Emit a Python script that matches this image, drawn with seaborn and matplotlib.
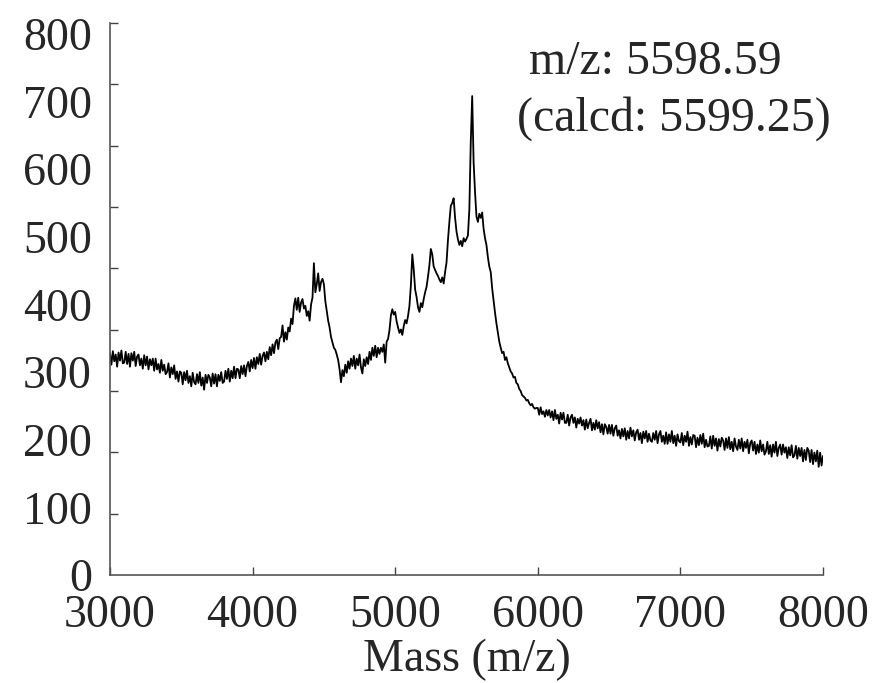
import numpy as np
import pandas as pd
import matplotlib
matplotlib.use("Agg")
import matplotlib.pyplot as plt
import seaborn as sns

# intensities, one value every 10 Da (3000 ... 8000)
baseline_left = [
    328, 311, 331, 316, 326, 308, 329, 317, 332, 313,   # 3000
    314, 330, 312, 327, 308, 328, 317, 330, 309, 323,   # 3100
    326, 310, 320, 305, 325, 310, 323, 304, 319, 310,   # 3200
    320, 302, 320, 304, 312, 299, 318, 302, 311, 297,   # 3300
    300, 313, 292, 307, 297, 310, 290, 301, 286, 301,   # 3400
    299, 282, 300, 288, 302, 284, 294, 279, 299, 285,   # 3500
    282, 297, 284, 300, 280, 292, 274, 296, 284, 296,   # 3600
    292, 279, 298, 283, 297, 279, 296, 287, 300, 284,   # 3700
    286, 302, 290, 305, 286, 302, 291, 308, 291, 305,   # 3800
    304, 291, 309, 297, 310, 294, 309, 315, 301, 318,   # 3900
    306, 321, 305, 322, 312, 327, 311, 324, 329, 316,   # 4000
    330, 319, 337, 325, 341, 328, 344, 348, 334, 350,   # 4100
]
first_hump = [
    352, 369, 345, 359, 348, 366, 360, 379, 371, 398,   # 4200
    409, 392, 410, 389, 403, 408, 394, 398, 383, 390,   # 4300
    376, 400, 410, 461, 418, 430, 446, 420, 433, 438,   # 4400
    430, 405, 390, 376, 366, 352, 344, 336, 333, 326,   # 4500
    318, 304, 285, 303, 294, 311, 299, 316, 305, 320,   # 4600
    309, 324, 305, 320, 310, 326, 307, 298, 319, 309,   # 4700
    322, 312, 330, 318, 336, 324, 339, 322, 336, 327,   # 4800
    336, 330, 341, 314, 345, 349, 362, 384, 393, 385,   # 4900
]
main_cluster = [
    389, 375, 366, 358, 363, 355, 368, 377, 372, 383,   # 5000
    398, 428, 474, 452, 422, 411, 396, 389, 402, 396,   # 5100
    408, 418, 426, 441, 458, 482, 474, 456, 451, 446,   # 5200
    442, 437, 433, 440, 431, 448, 462, 495, 522, 546,   # 5300
    550, 557, 528, 508, 496, 488, 494, 486, 498, 493,   # 5400
    497, 502, 540, 640, 708, 610, 566, 530, 522, 534,   # 5500
    528, 536, 512, 498, 488, 470, 456, 448, 424, 406,   # 5600
    388, 372, 358, 345, 336, 328, 330, 318, 322, 313,   # 5700
    307, 301, 298, 292, 293, 284, 282, 275, 272, 266,   # 5800
    264, 262, 258, 259, 254, 251, 253, 248, 246, 247,   # 5900
]
tail_right = [
    247, 237, 248, 238, 242, 234, 244, 236, 244, 233,   # 6000
    242, 229, 244, 231, 237, 224, 240, 230, 240, 225,   # 6100
    225, 237, 221, 233, 237, 225, 233, 218, 231, 224,   # 6200
    233, 221, 229, 215, 230, 217, 225, 231, 214, 225,   # 6300
    215, 229, 217, 226, 211, 223, 208, 223, 219, 209,   # 6400
    222, 209, 222, 206, 217, 221, 206, 214, 202, 216,   # 6500
    205, 217, 200, 213, 202, 218, 205, 214, 199, 211,   # 6600
    215, 200, 210, 195, 212, 202, 213, 197, 209, 199,   # 6700
    197, 210, 200, 213, 195, 208, 213, 197, 206, 194,   # 6800
    211, 194, 208, 197, 213, 195, 206, 191, 208, 198,   # 6900
    196, 210, 192, 206, 197, 212, 191, 204, 193, 207,   # 7000
    206, 189, 203, 192, 207, 194, 209, 189, 200, 190,   # 7100
    191, 205, 187, 206, 191, 202, 184, 201, 190, 203,   # 7200
    199, 185, 202, 188, 204, 186, 197, 183, 202, 190,   # 7300
    185, 200, 187, 202, 183, 197, 188, 200, 180, 195,   # 7400
    199, 184, 197, 179, 193, 181, 199, 183, 193, 178,   # 7500
    183, 197, 179, 192, 175, 193, 181, 197, 176, 188,   # 7600
    193, 178, 193, 181, 189, 173, 189, 177, 192, 174,   # 7700
    177, 191, 172, 188, 176, 188, 168, 185, 170, 188,   # 7800
    184, 167, 185, 164, 181, 168, 184, 160, 181, 162,   # 7900
    176,                                                # 8000
]

x_ticks = [3000, 4000, 5000, 6000, 7000, 8000]
y_ticks = [0, 100, 200, 300, 400, 500, 600, 700, 800]
peak_text = ["m/z: 5598.59", "(calcd: 5599.25)"]

intensity = np.array(baseline_left + first_hump + main_cluster + tail_right)
mass = np.arange(3000, 8001, 10)
df = pd.DataFrame({"mass": mass, "intensity": intensity})

sns.set_style("ticks")
plt.rcParams["font.family"] = ["Liberation Serif", "DejaVu Serif"]

fig = plt.figure(figsize=(8.73, 6.83), dpi=100)
ax = fig.add_axes([0.126, 0.158, 0.8167, 0.8083])

sns.lineplot(data=df, x="mass", y="intensity", color="black", lw=1.3,
             estimator=None, ax=ax)

ax.set_xlim(3000, 8000)
ax.set_ylim(0, 816)

ax.set_xticks(x_ticks)
ax.set_xticklabels([str(t) for t in x_ticks], fontsize=33)
ax.tick_params(axis="x", direction="in", length=6, width=1, color="#444444", pad=14)

# labels and tick marks on the y axis sit on different spacings in the original
ax.set_yticks(y_ticks)
ax.set_yticklabels([str(t) for t in y_ticks], fontsize=33)
ax.tick_params(axis="y", which="major", length=0, pad=13)
ax.set_yticks(np.linspace(0, 816, 10), minor=True)
ax.tick_params(axis="y", which="minor", direction="in", length=6, width=1, color="#444444")

for side in ["top", "right"]:
    ax.spines[side].set_visible(False)
for side in ["left", "bottom"]:
    ax.spines[side].set_color("#555555")
    ax.spines[side].set_linewidth(1.2)

ax.set_xlabel("Mass (m/z)", fontsize=33, labelpad=1)
ax.set_ylabel("")

fig.text(0.606, 0.909, peak_text[0], fontsize=34.5, va="center", ha="left")
fig.text(0.592, 0.826, peak_text[1], fontsize=34.5, va="center", ha="left")

fig.savefig("out.png", dpi=100, facecolor="white")
